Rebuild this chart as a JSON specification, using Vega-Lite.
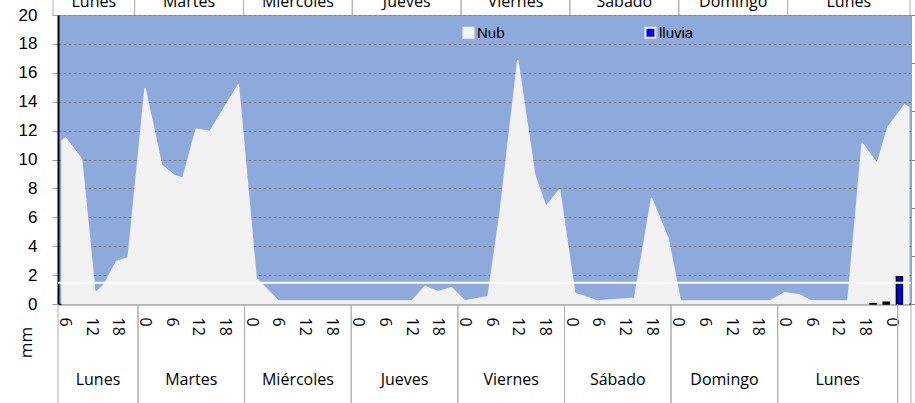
{
  "$schema": "https://vega.github.io/schema/vega-lite/v6.json",
  "width": 853,
  "height": 289,
  "autosize": {"type": "none"},
  "padding": {"left": 58, "top": 15, "right": 4, "bottom": 99},
  "background": "#FFFFFF",
  "config": {"view": {"fill": "#8EA9DB", "stroke": null}},
  "datasets": {
    "nub": [
      {"t": 0.9, "nub": 11.3}, {"t": 1.7, "nub": 11.5}, {"t": 5.33, "nub": 10.0}, {"t": 8.33, "nub": 0.75},
      {"t": 10.2, "nub": 1.25}, {"t": 13.2, "nub": 2.93}, {"t": 15.8, "nub": 3.2}, {"t": 19.6, "nub": 14.9},
      {"t": 23.3, "nub": 9.62}, {"t": 26.2, "nub": 8.88}, {"t": 28.1, "nub": 8.7}, {"t": 31.1, "nub": 12.1},
      {"t": 34.2, "nub": 11.93}, {"t": 40.6, "nub": 15.16}, {"t": 44.6, "nub": 1.78}, {"t": 49.6, "nub": 0.2},
      {"t": 79.7, "nub": 0.2}, {"t": 82.6, "nub": 1.2}, {"t": 85.6, "nub": 0.85}, {"t": 88.6, "nub": 1.13},
      {"t": 91.6, "nub": 0.2}, {"t": 96.8, "nub": 0.5}, {"t": 99.5, "nub": 6.28}, {"t": 103.5, "nub": 16.84},
      {"t": 107.3, "nub": 8.93}, {"t": 109.8, "nub": 6.74}, {"t": 112.9, "nub": 7.9}, {"t": 116.3, "nub": 0.74},
      {"t": 121.5, "nub": 0.2}, {"t": 129.8, "nub": 0.4}, {"t": 133.6, "nub": 7.31}, {"t": 137.3, "nub": 4.55},
      {"t": 140.1, "nub": 0.2}, {"t": 160.2, "nub": 0.2}, {"t": 163.6, "nub": 0.78}, {"t": 167.0, "nub": 0.62},
      {"t": 169.6, "nub": 0.2}, {"t": 177.8, "nub": 0.2}, {"t": 181.0, "nub": 11.12}, {"t": 184.4, "nub": 9.69},
      {"t": 186.8, "nub": 12.23}, {"t": 190.6, "nub": 13.77}, {"t": 191.5, "nub": 13.6}
    ],
    "lluvia": [{"t": 184.5, "lluvia": 0.03}, {"t": 187.5, "lluvia": 0.12}, {"t": 190.5, "lluvia": 1.89}],
    "umbral": [{"umbral": 1.47}],
    "dias": [
      {"dia": "Lunes", "start": 0, "end": 18, "mid": 9},
      {"dia": "Martes", "start": 18, "end": 42, "mid": 30},
      {"dia": "Miércoles", "start": 42, "end": 66, "mid": 54},
      {"dia": "Jueves", "start": 66, "end": 90, "mid": 78},
      {"dia": "Viernes", "start": 90, "end": 114, "mid": 102},
      {"dia": "Sábado", "start": 114, "end": 138, "mid": 126},
      {"dia": "Domingo", "start": 138, "end": 162, "mid": 150},
      {"dia": "Lunes", "start": 162, "end": 189, "mid": 175.5},
      {"dia": "", "start": 189, "end": 192, "mid": 190.5}
    ],
    "diasTop": [
      {"dia": "Lunes", "start": 0, "end": 18, "mid": 9},
      {"dia": "Martes", "start": 18, "end": 42, "mid": 30},
      {"dia": "Miércoles", "start": 42, "end": 66, "mid": 54},
      {"dia": "Jueves", "start": 66, "end": 90, "mid": 78},
      {"dia": "Viernes", "start": 90, "end": 114, "mid": 102},
      {"dia": "Sábado", "start": 114, "end": 138, "mid": 126},
      {"dia": "Domingo", "start": 138, "end": 162, "mid": 150},
      {"dia": "Lunes", "start": 162, "end": 189, "mid": 175.5}
    ]
  },
  "layer": [
    {
      "data": {"name": "nub"},
      "mark": {"type": "area", "opacity": 1, "stroke": "#F2F2F2", "strokeWidth": 1.5, "strokeJoin": "round"},
      "encoding": {
        "x": {"field": "t", "type": "quantitative", "scale": {"domain": [0, 192], "nice": false, "zero": false},
          "axis": {"values": [1.5, 7.5, 13.5, 19.5, 25.5, 31.5, 37.5, 43.5, 49.5, 55.5, 61.5, 67.5, 73.5, 79.5, 85.5, 91.5, 97.5, 103.5, 109.5, 115.5, 121.5, 127.5, 133.5, 139.5, 145.5, 151.5, 157.5, 163.5, 169.5, 175.5, 181.5, 187.5],
            "labelExpr": "'' + ((datum.value + 4.5) % 24)", "labelAngle": 90, "labelAlign": "left", "labelBaseline": "middle",
            "labelFont": "Open Sans", "labelFontSize": 16, "labelColor": "#000000", "labelPadding": 13,
            "ticks": false, "grid": false, "domainColor": "#000000", "domainWidth": 1.5, "title": null,
            "labelOverlap": false, "labelBound": false, "labelFlush": false}},
        "y": {"field": "nub", "type": "quantitative", "scale": {"domain": [0, 20], "nice": false},
          "axis": {"values": [0, 2, 4, 6, 8, 10, 12, 14, 16, 18, 20], "labelFont": "Liberation Sans", "labelFontSize": 17,
            "labelColor": "#000000", "labelPadding": 15, "tickSize": 6, "tickColor": "#A0A0A0",
            "grid": true, "gridColor": "#7F7F7F", "gridDash": [3, 2], "gridWidth": 1,
            "domainColor": "#000000", "domainWidth": 2, "labelFlush": false, "labelOverlap": false,
            "title": "mm", "titleFont": "Open Sans", "titleFontSize": 17, "titleFontWeight": "normal", "titleColor": "#000000",
            "titleAngle": -90, "titleX": -32, "titleY": 327, "titleAlign": "center", "titleBaseline": "middle"}},
        "color": {"datum": "Nub", "type": "nominal", "scale": {"domain": ["Nub", "lluvia"], "range": ["#F2F2F2", "#0000FF"]},
          "legend": {"orient": "none", "legendX": 403, "legendY": 10, "direction": "horizontal", "title": null,
            "symbolType": "square", "symbolSize": 100, "symbolStrokeWidth": 2, "labelFont": "Liberation Sans",
            "labelFontSize": 15, "labelColor": "#000000", "labelOffset": 1, "columnPadding": 136,
            "encode": {"symbols": {"update": {"stroke": {"signal": "datum.value === 'lluvia' ? '#000000' : 'transparent'"}}}}}}
      }
    },
    {
      "data": {"name": "lluvia"},
      "mark": {"type": "bar", "stroke": "#000000", "strokeWidth": 1.5, "width": 6, "opacity": 1},
      "encoding": {
        "x": {"field": "t", "type": "quantitative", "scale": {"domain": [0, 192], "nice": false, "zero": false}, "axis": null},
        "y": {"field": "lluvia", "type": "quantitative", "scale": {"domain": [0, 20], "nice": false}, "axis": null},
        "color": {"datum": "lluvia", "type": "nominal"}
      }
    },
    {
      "data": {"name": "umbral"},
      "mark": {"type": "rule", "color": "#FFFFFF", "strokeWidth": 2},
      "encoding": {
        "y": {"field": "umbral", "type": "quantitative", "scale": {"domain": [0, 20], "nice": false}, "axis": null}
      }
    },
    {
      "data": {"name": "dias"},
      "mark": {"type": "rule", "color": "#B0B0B0", "strokeWidth": 1},
      "encoding": {
        "x": {"field": "start", "type": "quantitative", "scale": {"domain": [0, 192], "nice": false, "zero": false}, "axis": null},
        "y": {"datum": 0, "type": "quantitative", "scale": {"domain": [0, 20], "nice": false}, "axis": null},
        "y2": {"datum": -7}
      }
    },
    {
      "data": {"name": "dias"},
      "mark": {"type": "rule", "color": "#B0B0B0", "strokeWidth": 1},
      "encoding": {
        "x": {"field": "end", "type": "quantitative", "scale": {"domain": [0, 192], "nice": false, "zero": false}, "axis": null},
        "y": {"datum": 0, "type": "quantitative", "scale": {"domain": [0, 20], "nice": false}, "axis": null},
        "y2": {"datum": -7}
      }
    },
    {
      "data": {"name": "dias"},
      "mark": {"type": "text", "font": "Open Sans", "fontSize": 16, "color": "#000000", "align": "center", "baseline": "alphabetic"},
      "encoding": {
        "x": {"field": "mid", "type": "quantitative", "scale": {"domain": [0, 192], "nice": false, "zero": false}, "axis": null},
        "y": {"datum": -5.6, "type": "quantitative", "scale": {"domain": [0, 20], "nice": false}, "axis": null},
        "text": {"field": "dia"}
      }
    },
    {
      "data": {"name": "diasTop"},
      "mark": {"type": "rule", "color": "#B0B0B0", "strokeWidth": 1},
      "encoding": {
        "x": {"field": "start", "type": "quantitative", "scale": {"domain": [0, 189], "range": [-5, 852], "nice": false, "zero": false}, "axis": null},
        "y": {"datum": 20, "type": "quantitative", "scale": {"domain": [0, 20], "nice": false},
          "axis": {"orient": "right", "values": [0, 3.3333, 6.6667, 10, 13.3333, 16.6667, 20], "labels": false, "tickSize": 5,
            "tickColor": "#808080", "domainColor": "#A0A0A0", "grid": false, "title": null}},
        "y2": {"datum": 21.5}
      }
    },
    {
      "data": {"name": "diasTop"},
      "mark": {"type": "rule", "color": "#B0B0B0", "strokeWidth": 1},
      "encoding": {
        "x": {"field": "end", "type": "quantitative", "scale": {"domain": [0, 189], "range": [-5, 852], "nice": false, "zero": false}, "axis": null},
        "y": {"datum": 20, "type": "quantitative", "scale": {"domain": [0, 20], "nice": false}, "axis": null},
        "y2": {"datum": 21.5}
      }
    },
    {
      "data": {"name": "diasTop"},
      "mark": {"type": "text", "font": "Open Sans", "fontSize": 16, "color": "#000000", "align": "center", "baseline": "alphabetic"},
      "encoding": {
        "x": {"field": "mid", "type": "quantitative", "scale": {"domain": [0, 189], "range": [-5, 852], "nice": false, "zero": false}, "axis": null},
        "y": {"datum": 20.53, "type": "quantitative", "scale": {"domain": [0, 20], "nice": false}, "axis": null},
        "text": {"field": "dia"}
      }
    }
  ],
  "resolve": {"scale": {"x": "independent"}, "axis": {"x": "independent", "y": "independent"}}
}
